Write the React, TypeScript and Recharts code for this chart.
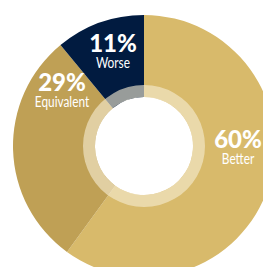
import React from 'react';
import { PieChart, Pie, Cell } from 'recharts';

const SEGMENTS = ['Better', 'Equivalent', 'Worse'];
const SHARES = [60, 29, 11];
const COLORS = ['#d8ba6b', '#bfa055', '#011b40'];

// where each label group sits, relative to the pie centre
const LABEL_OFFSETS = [
  { dx: 94, dy: 2 },
  { dx: -82, dy: -55 },
  { dx: -31, dy: -94 },
];

const CX = 144;
const CY = 146;
const FONT = 'Lato, "DejaVu Sans", sans-serif';

const data = SEGMENTS.map((name, i) => ({ name, value: SHARES[i] }));
const ring = [{ name: 'ring', value: 1 }];

const renderLabel = (props: any) => {
  const { index, value, name } = props;
  const off = LABEL_OFFSETS[index];
  const x = CX + off.dx;
  const y = CY + off.dy;
  const sx = 0.74;
  return (
    <g key={`lbl-${index}`}>
      <text x={x} y={y} textAnchor="middle" fill="#ffffff" fontFamily={FONT} fontWeight={900} fontSize={24}>
        {`${value}%`}
      </text>
      <g transform={`translate(${x},${y + 16}) scale(${sx},1)`}>
        <text x={0} y={0} textAnchor="middle" fill="#ffffff" fontFamily={FONT} fontWeight={400} fontSize={16}>
          {name}
        </text>
      </g>
    </g>
  );
};

export default function App() {
  return (
    <div style={{ width: 263, height: 267, background: '#ffffff' }}>
      <style>{'body{margin:0}'}</style>
      <PieChart width={263} height={267} margin={{ top: 0, right: 0, bottom: 0, left: 0 }}>
        <Pie
          data={data}
          dataKey="value"
          nameKey="name"
          cx={CX}
          cy={CY}
          innerRadius={49}
          outerRadius={131}
          startAngle={90}
          endAngle={-270}
          stroke="none"
          label={renderLabel}
          labelLine={false}
          isAnimationActive={false}
        >
          {data.map((d, i) => (
            <Cell key={d.name} fill={COLORS[i]} />
          ))}
        </Pie>
        <Pie
          data={ring}
          dataKey="value"
          cx={CX}
          cy={CY}
          innerRadius={49}
          outerRadius={61}
          startAngle={90}
          endAngle={-270}
          stroke="none"
          fill="#f6ecd2"
          fillOpacity={0.62}
          isAnimationActive={false}
        />
      </PieChart>
    </div>
  );
}
